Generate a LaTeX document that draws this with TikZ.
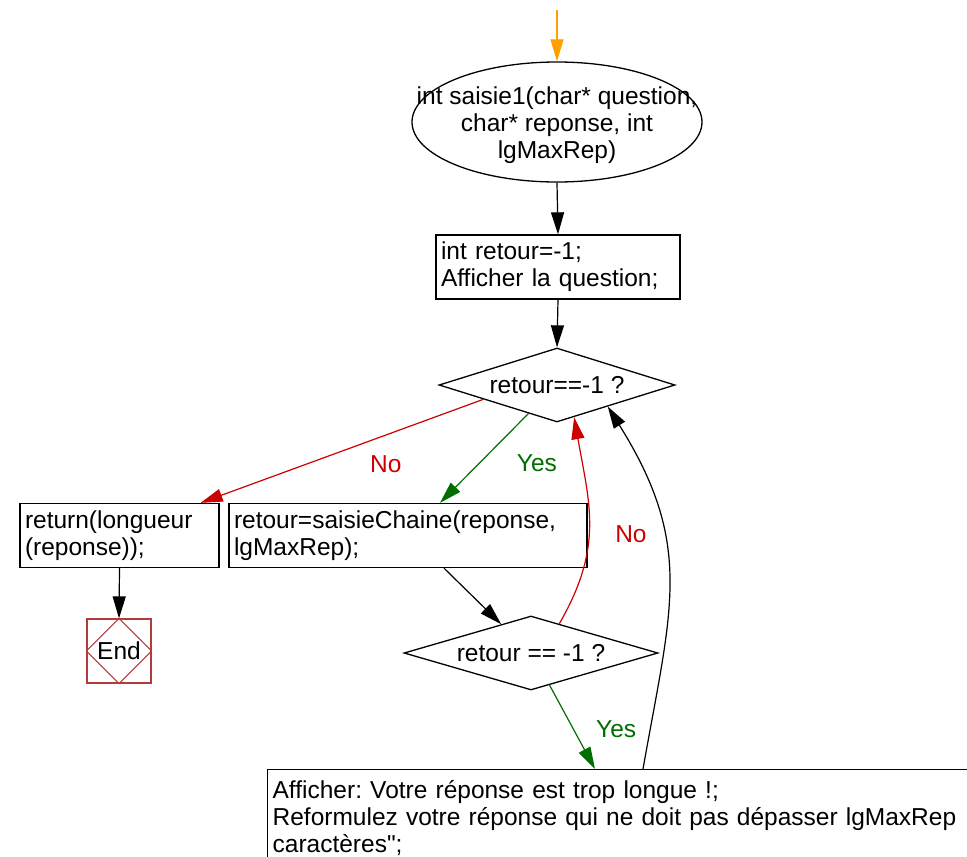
\documentclass[tikz,border=0pt]{standalone}
\usepackage{fontspec}
\setmainfont{Liberation Sans}[Ligatures=TeXOff]
\usetikzlibrary{shapes.geometric,arrows.meta}
\definecolor{nored}{RGB}{204,0,0}
\definecolor{yesgreen}{RGB}{0,110,0}
\definecolor{startorange}{RGB}{255,160,0}
\definecolor{endred}{RGB}{178,60,60}
\frenchspacing

\begin{document}
\begin{tikzpicture}[x=1pt,y=-1pt,
    every node/.style={font=\fontsize{24.5}{27}\selectfont},
    instr/.style={draw,line width=1.3pt,align=left,inner xsep=5pt,minimum height=64pt},
    test/.style={diamond,draw,line width=1.3pt,inner sep=0pt},
    flow/.style={-{Triangle[length=22pt,width=13pt]},line width=1.2pt}]
    \useasboundingbox (0,0) rectangle (967,857);
    \clip (0,0) rectangle (967,857);

    \node[ellipse,draw,line width=1.3pt,minimum width=290pt,minimum height=120pt,inner sep=0pt,
        label={[align=center,yshift=-3pt]center:{int saisie1(char* question,\\char* reponse, int\\lgMaxRep)}}] (start) at (557,122) {};
    \node[instr,text width=234pt] (init) at (558,267) {int retour=-1;\\Afficher la question;};
    \node[test,minimum width=236pt,minimum height=74pt,label=center:{retour==-1 ?}] (test1) at (557,385) {};
    \node[instr,text width=189pt] (ret) at (119.5,535.5) {return(longueur\\(reponse));};
    \node[instr,text width=348pt] (call) at (408,535.5) {retour=saisieChaine(reponse,\\lgMaxRep);};
    \node[draw=endred,line width=1.2pt,minimum size=64pt,inner sep=0pt] (end) at (119,651) {End};
    \draw[endred,line width=1pt] (end.north) -- (end.east) -- (end.south) -- (end.west) -- cycle;
    \node[test,minimum width=254pt,minimum height=74pt,label=center:{retour == -1 ?}] (test2) at (531,653) {};
    \node[instr,anchor=north west,text width=720pt,minimum height=0pt,inner ysep=11pt,text depth=100pt] (msg) at (267,769)
        {Afficher: Votre réponse est trop longue !;\\Reformulez votre réponse qui ne doit pas dépasser lgMaxRep\\caractères";};

    \coordinate (entry) at (557,10);
    \draw[flow,startorange] (entry) -- (start.north);
    \draw[flow] (start.south) -- (init.north);
    \draw[flow] (init.south) -- (test1.north);
    \draw[flow,nored] (test1.191) -- node[pos=.345,yshift=-29pt]{No} ([xshift=-19pt]ret.north east);
    \draw[flow,yesgreen] (test1.225) -- node[pos=.56,xshift=58pt]{Yes} ([xshift=32pt]call.north);
    \draw[flow] (ret.south) -- (end.north);
    \draw[flow] ([xshift=36pt]call.south) -- (test2.136);
    \draw[flow,nored] (test2.46) to[out=60,in=-80,looseness=1.1] node[pos=.45,xshift=42pt]{No} (test1.-62);
    \draw[flow,yesgreen] (test2.-60) -- node[pos=.52,xshift=43pt]{Yes} ([xshift=328pt]msg.north west);
    \draw[flow] ([xshift=376pt]msg.north west) to[out=80,in=-58,looseness=1.15] (test1.-23);
\end{tikzpicture}
\end{document}
